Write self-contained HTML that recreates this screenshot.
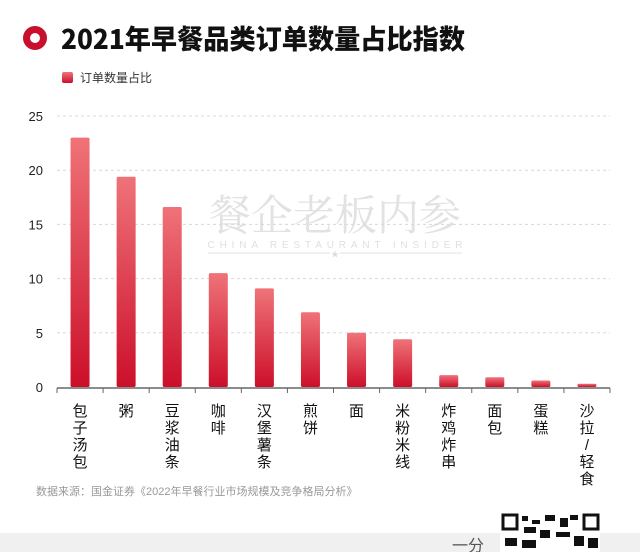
<!DOCTYPE html>
<html><head><meta charset="utf-8">
<style>
html,body{margin:0;padding:0;background:#fff;}
body{width:640px;height:552px;position:relative;overflow:hidden;font-family:"Liberation Sans","Noto Sans CJK SC",sans-serif;}
</style></head>
<body>
<svg id="chart" width="640" height="552" viewBox="0 0 640 552" xmlns="http://www.w3.org/2000/svg">
<defs>
<linearGradient id="barGrad" x1="0" y1="0" x2="0" y2="1">
<stop offset="0" stop-color="#ef7378"/>
<stop offset="1" stop-color="#cc0f2a"/>
</linearGradient>
</defs>
<circle cx="35" cy="38" r="8.5" fill="none" stroke="#c8102e" stroke-width="7"/>
<text x="61" y="49" font-size="27" font-weight="900" fill="#111" font-family="'Noto Sans CJK SC',sans-serif" textLength="404" lengthAdjust="spacingAndGlyphs">2021年早餐品类订单数量占比指数</text>
<rect x="62" y="72" width="11" height="11" rx="2" fill="url(#barGrad)"/>
<text x="80" y="82" font-size="12" fill="#333">订单数量占比</text>
<g id="watermark">
<text x="335" y="230" font-size="42" fill="#e2e2e2" text-anchor="middle" font-family="'Noto Serif CJK SC',serif">餐企老板内参</text>
<text x="335" y="248" font-size="10" fill="#e0e0e0" text-anchor="middle" textLength="255" lengthAdjust="spacing">CHINA RESTAURANT INSIDER</text>
<line x1="208" y1="253" x2="330" y2="253" stroke="#e0e0e0"/><line x1="340" y1="253" x2="462" y2="253" stroke="#e0e0e0"/>
<text x="335" y="257" font-size="8" fill="#ddd" text-anchor="middle">★</text>
</g>
<g id="grid"></g><g id="bars"></g><g id="axis"></g>
<text x="36" y="495" font-size="11" fill="#999">数据来源：国金证券《2022年早餐行业市场规模及竞争格局分析》</text>
<rect x="0" y="533" width="640" height="19" fill="#f0f0f0"/>
<text x="452" y="551" font-size="16" fill="#555">一分</text>
<g>
<rect x="500" y="513" width="100" height="39" fill="#fff"/>
<rect x="503" y="515" width="14" height="14" fill="none" stroke="#111" stroke-width="3"/>
<rect x="584" y="515" width="14" height="14" fill="none" stroke="#111" stroke-width="3"/>
<rect x="522" y="516" width="6" height="5" fill="#111"/><rect x="532" y="520" width="8" height="4" fill="#111"/>
<rect x="545" y="515" width="10" height="6" fill="#111"/><rect x="560" y="518" width="8" height="9" fill="#111"/>
<rect x="570" y="515" width="8" height="5" fill="#111"/><rect x="524" y="527" width="12" height="6" fill="#111"/>
<rect x="540" y="530" width="10" height="8" fill="#111"/><rect x="556" y="532" width="14" height="5" fill="#111"/>
<rect x="505" y="538" width="12" height="8" fill="#111"/><rect x="522" y="540" width="14" height="8" fill="#111"/>
<rect x="574" y="536" width="10" height="10" fill="#111"/><rect x="588" y="538" width="10" height="10" fill="#111"/>
</g>
</svg>
<script>
const categories=["包子汤包","粥","豆浆油条","咖啡","汉堡薯条","煎饼","面","米粉米线","炸鸡炸串","面包","蛋糕","沙拉/轻食"];
const values=[23.0,19.4,16.6,10.5,9.1,6.9,5.0,4.4,1.1,0.9,0.6,0.3];
const yTicks=[0,5,10,15,20,25];
const NS="http://www.w3.org/2000/svg";
const x0=57,x1=610,y0=387,yTop=116,yMax=25;
const band=(x1-x0)/categories.length;
function y(v){return y0-(v/yMax)*(y0-yTop);}
function bx(i){return x0+band*i+band/2;}
function mk(t,a){const e=document.createElementNS(NS,t);for(const k in a)e.setAttribute(k,a[k]);return e;}
const grid=document.getElementById('grid'),bars=document.getElementById('bars'),axis=document.getElementById('axis');
yTicks.forEach(t=>{
 if(t>0){const l=mk('line',{x1:x0,x2:x1,y1:y(t),y2:y(t),stroke:'#d8d8d8','stroke-dasharray':'3,3'});
 
 
 grid.appendChild(l);}
 const tx=mk('text',{x:43,y:y(t)+5,'font-size':13,fill:'#222','text-anchor':'end'});
 tx.textContent=t;
 
 
 axis.appendChild(tx);
});
values.forEach((v,i)=>{
 const r=mk('rect',{x:bx(i)-9.5,y:y(v),width:19,height:y0-y(v),rx:1.5,fill:'url(#barGrad)'});
 
 
 bars.appendChild(r);
});
const al=mk('line',{x1:x0,x2:x1,y1:y0+1,y2:y0+1,stroke:'#666','stroke-width':1.5});


axis.appendChild(al);
for(let i=0;i<=categories.length;i++){
 const tk=mk('line',{x1:x0+band*i,x2:x0+band*i,y1:y0+1,y2:y0+6,stroke:'#666'});
 
 
 axis.appendChild(tk);
}
categories.forEach((c,i)=>{
 const chars=c.split('');
 const g=mk('text',{'font-size':15,fill:'#111','text-anchor':'middle'});
 
 
 chars.forEach((ch,j)=>{const ts=mk('tspan',{x:bx(i),y:416+j*17});ts.textContent=ch;g.appendChild(ts);});
 axis.appendChild(g);
});
</script>
</body></html>
